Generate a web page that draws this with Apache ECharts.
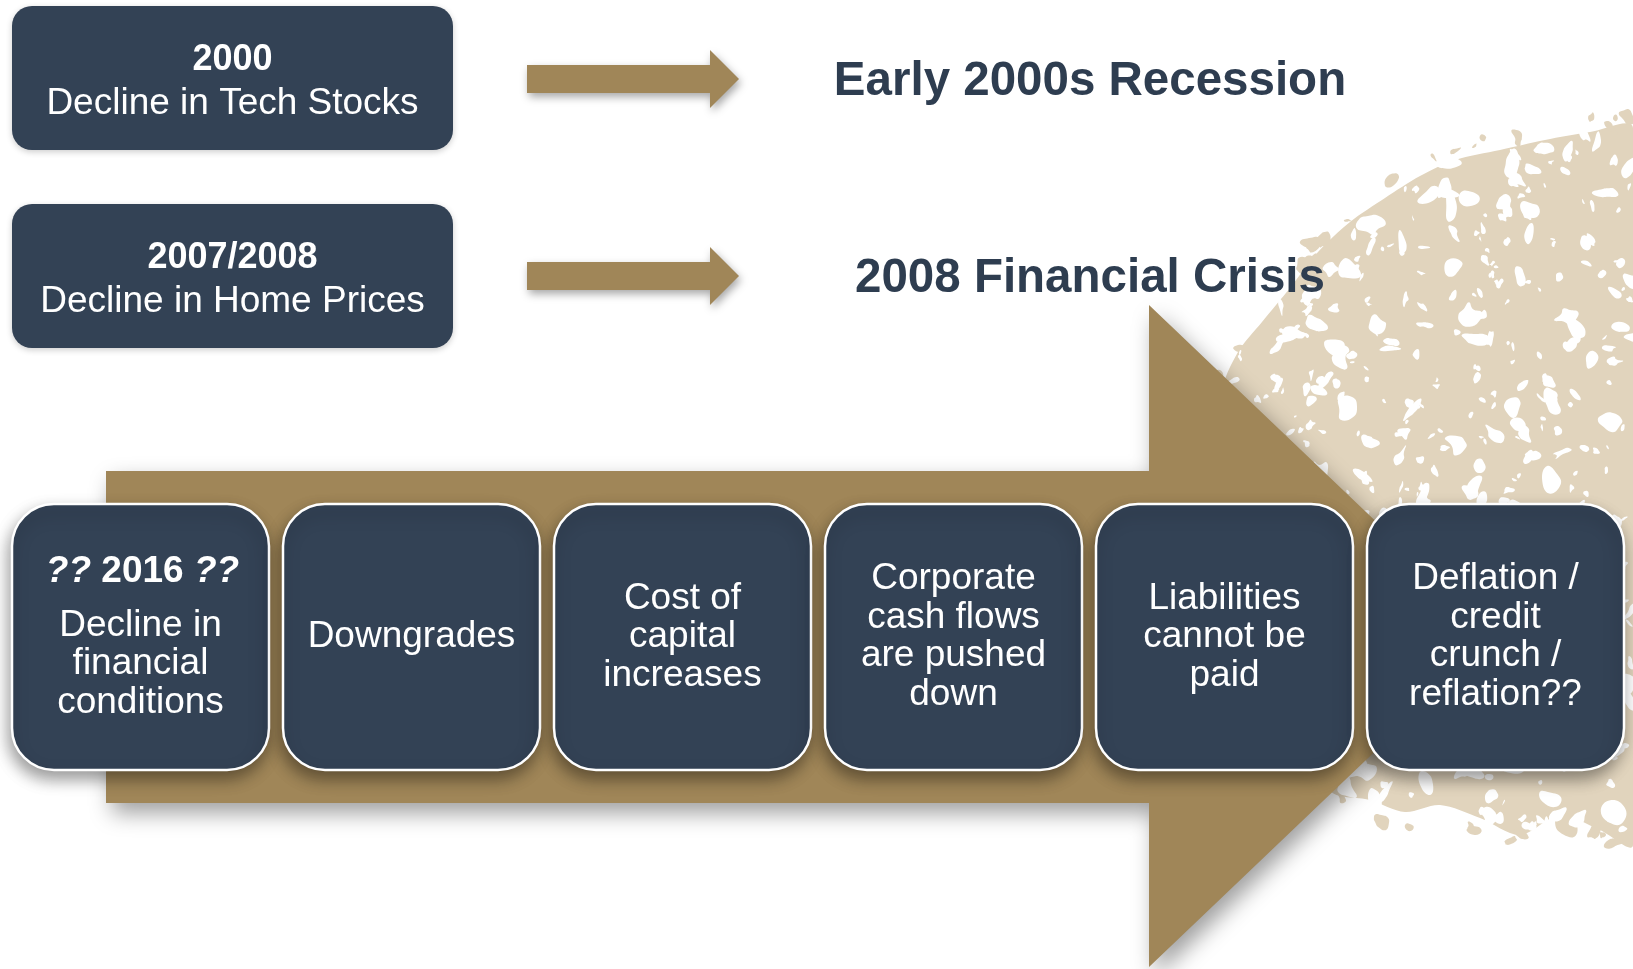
<!DOCTYPE html>
<html>
<head>
<meta charset="utf-8">
<title>Financial conditions chain</title>
<script src="https://cdn.jsdelivr.net/npm/echarts@6/dist/echarts.min.js"></script>
<style>
  html, body { margin: 0; padding: 0; background: #ffffff; }
  #diagram { width: 1633px; height: 969px; }
</style>
</head>
<body>
<div id="diagram"></div>
<script>
// =============================== //
// Chain of events diagram
// =============================== //

// Top row: cause boxes and what they led to
const causeYears = ["2000", "2007/2008"];
const causeEvents = ["Decline in Tech Stocks", "Decline in Home Prices"];
const outcomes = ["Early 2000s Recession", "2008 Financial Crisis"];

// Bottom chain: header of first step and the step labels
const chainHeader = ["??", "2016", "??"];
const chainSteps = [
    "Decline in\nfinancial\nconditions",
    "Downgrades",
    "Cost of\ncapital\nincreases",
    "Corporate\ncash flows\nare pushed\ndown",
    "Liabilities\ncannot be\npaid",
    "Deflation /\ncredit\ncrunch /\nreflation??"
];

// Colours
const navy = "#334255";
const gold = "#A08658";
const beige = "#E1D4BD";
const titleInk = "#2E3D50";
const font = "'Liberation Sans', Arial, sans-serif";

// ------------------- //
// Background texture (beige splash, top right)
// ------------------- //
const splash = [
    [1633, 128], [1590, 132], [1545, 140], [1500, 150], [1455, 160], [1420, 176],
    [1385, 198], [1350, 222], [1318, 252], [1290, 288], [1262, 322], [1238, 352],
    [1222, 392], [1232, 430], [1262, 468], [1290, 500], [1310, 560], [1320, 700],
    [1330, 790], [1370, 800], [1405, 812], [1440, 805], [1480, 818], [1520, 835],
    [1560, 815], [1600, 830], [1633, 845]
];

function insidePoly(px, py, poly) {
    let inside = false;
    for (let i = 0, j = poly.length - 1; i < poly.length; j = i++) {
        const xi = poly[i][0], yi = poly[i][1], xj = poly[j][0], yj = poly[j][1];
        if (((yi > py) !== (yj > py)) && (px < (xj - xi) * (py - yi) / (yj - yi) + xi)) inside = !inside;
    }
    return inside;
}

// seeded generator so the speckles look the same every time
let seed = 12345;
function rnd() {
    seed = (seed * 16807) % 2147483647;
    return seed / 2147483647;
}

// irregular little splotch around (cx, cy)
function splotch(cx, cy, size, fill) {
    const n = 5 + Math.floor(rnd() * 4);
    const rot = rnd() * Math.PI * 2;
    const stretch = 0.3 + rnd() * 0.6;
    let pts = [];
    for (let k = 0; k < n; k++) {
        const a = rot + (k / n) * Math.PI * 2;
        const r = size * (0.45 + rnd() * 0.75);
        const lx = Math.cos(a) * r, ly = Math.sin(a) * r * stretch;
        pts.push([cx + lx * Math.cos(rot) - ly * Math.sin(rot), cy + lx * Math.sin(rot) + ly * Math.cos(rot)]);
    }
    return { type: "polygon", z: 1, shape: { points: pts, smooth: 0.5 }, style: { fill: fill } };
}

let graphics = [];

graphics.push({
    type: "polygon",
    z: 1,
    shape: { points: splash, smooth: 0.3 },
    style: { fill: beige }
});

// ragged beige bits just outside the edge
for (let k = 0; k < 700; k++) {
    const cx = 1180 + rnd() * 460;
    const cy = 90 + rnd() * 800;
    if (insidePoly(cx, cy, splash)) continue;
    let near = false;
    for (const d of [[18, 0], [-18, 0], [0, 18], [0, -18]]) {
        if (insidePoly(cx + d[0], cy + d[1], splash)) near = true;
    }
    if (!near) continue;
    graphics.push(splotch(cx, cy, 4 + rnd() * 9, beige));
}

// white holes inside
for (let k = 0; k < 700; k++) {
    const cx = 1200 + rnd() * 440;
    const cy = 100 + rnd() * 770;
    if (!insidePoly(cx, cy, splash)) continue;
    const big = rnd();
    graphics.push(splotch(cx, cy, 3 + big * big * 13, "#ffffff"));
}

// ------------------- //
// Big arrow behind the chain
// ------------------- //
const shaftLeft = 106, shaftTop = 471, shaftBottom = 803;
const headBase = 1149, headTop = 305, headBottom = 967, headTip = 1496;

graphics.push({
    type: "polygon",
    z: 2,
    shape: {
        points: [
            [shaftLeft, shaftTop], [headBase, shaftTop], [headBase, headTop],
            [headTip, (headTop + headBottom) / 2], [headBase, headBottom],
            [headBase, shaftBottom], [shaftLeft, shaftBottom]
        ]
    },
    style: {
        fill: gold,
        shadowBlur: 22,
        shadowColor: "rgba(0,0,0,0.38)",
        shadowOffsetX: 6,
        shadowOffsetY: 10
    }
});

// ------------------- //
// Top row: cause boxes, small arrows, outcome titles
// ------------------- //
const topBoxX = 12, topBoxW = 441, topBoxH = 144;
const topBoxY = [6, 204];
const smallArrowY = [79, 276];

for (let i = 0; i < causeYears.length; i++) {
    graphics.push({
        type: "rect",
        z: 3,
        shape: { x: topBoxX, y: topBoxY[i], width: topBoxW, height: topBoxH, r: 20 },
        style: { fill: navy, shadowBlur: 6, shadowColor: "rgba(0,0,0,0.2)", shadowOffsetY: 2 }
    });
    const cy = topBoxY[i] + topBoxH / 2;
    graphics.push({
        type: "text",
        z: 4,
        x: topBoxX + topBoxW / 2,
        y: cy - 18,
        style: { text: causeYears[i], fill: "#ffffff", font: "bold 36px " + font, align: "center", verticalAlign: "middle" }
    });
    graphics.push({
        type: "text",
        z: 4,
        x: topBoxX + topBoxW / 2,
        y: cy + 26,
        style: { text: causeEvents[i], fill: "#ffffff", font: "37px " + font, align: "center", verticalAlign: "middle" }
    });

    // small arrow
    const ay = smallArrowY[i];
    graphics.push({
        type: "polygon",
        z: 3,
        shape: {
            points: [
                [527, ay - 14], [710, ay - 14], [710, ay - 29], [739, ay],
                [710, ay + 29], [710, ay + 14], [527, ay + 14]
            ]
        },
        style: { fill: gold, shadowBlur: 8, shadowColor: "rgba(0,0,0,0.35)", shadowOffsetX: 2, shadowOffsetY: 4 }
    });

    // outcome title
    graphics.push({
        type: "text",
        z: 5,
        x: 1090,
        y: ay + 3,
        style: { text: outcomes[i], fill: titleInk, font: "bold 47.5px " + font, align: "center", verticalAlign: "middle" }
    });
}

// ------------------- //
// Bottom chain of rounded boxes
// ------------------- //
const chainX0 = 12, chainPitch = 271, chainW = 257, chainTop = 504, chainH = 266;
const chainMid = chainTop + chainH / 2;

for (let i = 0; i < chainSteps.length; i++) {
    const x = chainX0 + i * chainPitch;
    graphics.push({
        type: "rect",
        z: 3,
        shape: { x: x, y: chainTop, width: chainW, height: chainH, r: 42 },
        style: {
            fill: navy,
            stroke: "#ffffff",
            lineWidth: 2.5,
            shadowBlur: 16,
            shadowColor: "rgba(0,0,0,0.4)",
            shadowOffsetX: -2,
            shadowOffsetY: 8
        }
    });

    if (i === 0) {
        // first step has a bold year line above it
        graphics.push({
            type: "text",
            z: 4,
            x: x + chainW / 2 + 2,
            y: chainMid - 65,
            style: {
                text: "{q|" + chainHeader[0] + "}{y| " + chainHeader[1] + " }{q|" + chainHeader[2] + "}",
                align: "center",
                verticalAlign: "middle",
                rich: {
                    q: { fill: "#ffffff", font: "italic bold 37px " + font },
                    y: { fill: "#ffffff", font: "bold 37px " + font }
                }
            }
        });
        graphics.push({
            type: "text",
            z: 4,
            x: x + chainW / 2,
            y: chainMid + 27,
            style: { text: chainSteps[i], fill: "#ffffff", font: "37px " + font, lineHeight: 38.5, align: "center", verticalAlign: "middle" }
        });
    } else {
        graphics.push({
            type: "text",
            z: 4,
            x: x + chainW / 2,
            y: chainMid,
            style: { text: chainSteps[i], fill: "#ffffff", font: "37px " + font, lineHeight: 38.5, align: "center", verticalAlign: "middle" }
        });
    }
}

// Initiate echarts instance and draw
const chart = echarts.init(document.getElementById("diagram"), null, { renderer: "canvas" });
chart.setOption({
    backgroundColor: "#ffffff",
    animation: false,
    graphic: { elements: graphics }
});
</script>
</body>
</html>
